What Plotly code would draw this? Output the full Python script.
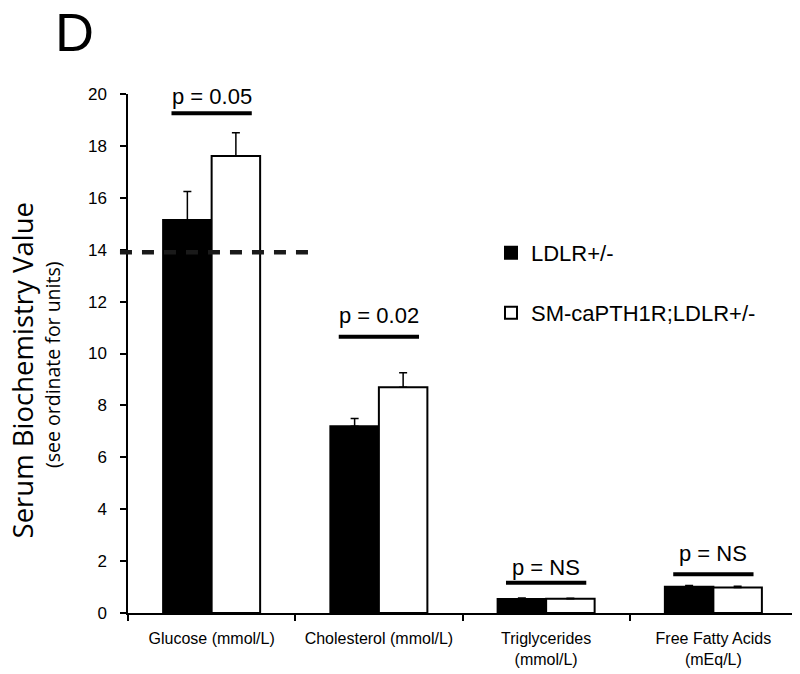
import plotly.graph_objects as go

# values
categories = ["Glucose (mmol/L)", "Cholesterol (mmol/L)",
              "Triglycerides<br>(mmol/L)", "Free Fatty Acids<br>(mEq/L)"]
ldlr = [15.14, 7.2, 0.54, 1.01]
ldlr_err = [1.1, 0.3, 0.04, 0.05]
sm_ldlr = [17.61, 8.7, 0.55, 0.98]
sm_ldlr_err = [0.9, 0.56, 0.02, 0.05]
p_labels = ["p = 0.05", "p = 0.02", "p = NS", "p = NS"]
p_line_y = [19.26, 10.65, 1.17, 1.49]
p_text_y = [19.9, 11.46, 1.75, 2.29]
ref_line = 13.9

fig = go.Figure()
fig.add_trace(go.Bar(x=categories, y=ldlr, name="LDLR+/-", legend="legend",
                     marker=dict(color="black", line=dict(color="black", width=2)),
                     error_y=dict(type="data", symmetric=False, array=ldlr_err,
                                  arrayminus=[0] * 4, color="black", thickness=1.5, width=4)))
fig.add_trace(go.Bar(x=categories, y=sm_ldlr, name="SM-caPTH1R;LDLR+/-", legend="legend2",
                     marker=dict(color="white", line=dict(color="black", width=2)),
                     error_y=dict(type="data", symmetric=False, array=sm_ldlr_err,
                                  arrayminus=[0] * 4, color="black", thickness=1.5, width=4)))

for i, (lab, yl, yt) in enumerate(zip(p_labels, p_line_y, p_text_y)):
    fig.add_shape(type="line", xref="x", yref="y", x0=i - 0.24, x1=i + 0.24,
                  y0=yl, y1=yl, line=dict(color="black", width=4))
    fig.add_annotation(x=i, y=yt, text=lab, showarrow=False, yanchor="middle",
                       font=dict(size=22, color="black"))

# dashed reference line
fig.add_shape(type="line", xref="paper", yref="y", x0=-0.012, x1=0.2765,
              y0=ref_line, y1=ref_line,
              line=dict(color="#1a1a1a", width=4.5, dash="12px,10px"))

# panel letter and axis title
fig.add_annotation(xref="paper", yref="paper", x=-0.0807, y=1.12, text="D",
                   showarrow=False, xanchor="center", yanchor="middle",
                   font=dict(size=54, color="black"))
fig.add_annotation(xref="paper", yref="paper", x=-0.158, y=0.468,
                   text="Serum Biochemistry Value", textangle=-90, showarrow=False,
                   xanchor="center", yanchor="middle",
                   font=dict(size=27.5, color="black", family="Open Sans"))
fig.add_annotation(xref="paper", yref="paper", x=-0.112, y=0.478,
                   text="(see ordinate for units)", textangle=-90, showarrow=False,
                   xanchor="center", yanchor="middle",
                   font=dict(size=19.5, color="black", family="Open Sans"))

leg = dict(xanchor="left", yanchor="middle", font=dict(size=22), itemwidth=30,
           bgcolor="rgba(0,0,0,0)", borderwidth=0)
fig.update_layout(
    width=800, height=674, barmode="group", bargap=0.42, bargroupgap=0,
    plot_bgcolor="white", paper_bgcolor="white",
    font=dict(family="Liberation Sans, Arial", color="black"),
    margin=dict(l=120, r=11, t=86, b=69),
    legend=dict(x=0.5426, y=0.6936, **leg),
    legend2=dict(x=0.5426, y=0.578, **leg),
    showlegend=True,
)
fig.update_xaxes(showline=True, linecolor="black", linewidth=1.5, ticks="outside",
                 tickson="boundaries", ticklen=6, tickcolor="black", tickwidth=1.5,
                 ticklabelstandoff=10, tickfont=dict(size=16), showgrid=False)
fig.update_yaxes(range=[0, 20], dtick=2, showline=True, linecolor="black", linewidth=1.5,
                 ticks="outside", ticklen=6, tickcolor="black", tickwidth=1.5, showgrid=False,
                 zeroline=False, ticklabelstandoff=10, tickfont=dict(size=17))

fig.write_html("out.html")
